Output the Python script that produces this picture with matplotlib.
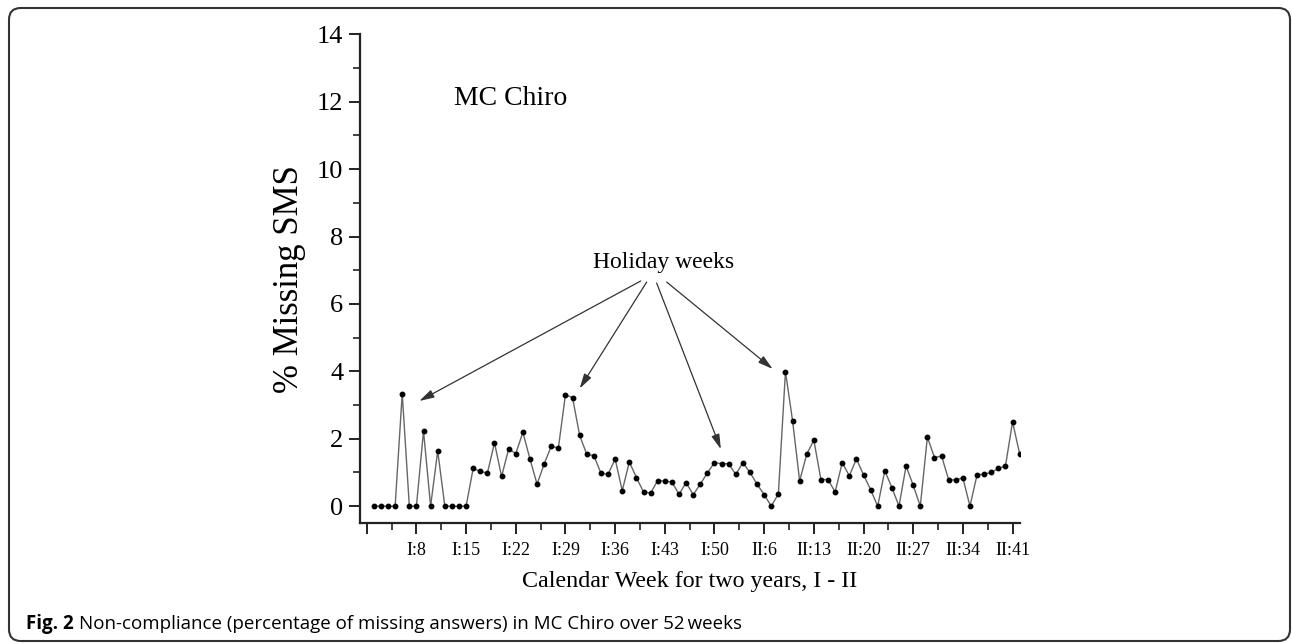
import matplotlib
matplotlib.use("Agg")
import matplotlib.pyplot as plt
from matplotlib.patches import FancyBboxPatch

# week index (1 = I:1); data start at I:2
weeks = list(range(2, 94))
missing = [0, 0, 0, 0, 3.34, 0, 0, 2.23, 0, 1.64, 0, 0, 0, 0,
           1.12, 1.03, 0.98, 1.88, 0.88, 1.70, 1.56, 2.19, 1.40, 0.65,
           1.25, 1.78, 1.72, 3.31, 3.22, 2.10, 1.54, 1.50, 0.98, 0.94,
           1.40, 0.46, 1.31, 0.85, 0.42, 0.39, 0.76, 0.74, 0.72, 0.35,
           0.70, 0.34, 0.65, 0.99, 1.29, 1.26, 1.26, 0.94, 1.29, 1.00,
           0.65, 0.34, 0.0, 0.36, 3.99, 2.54, 0.75, 1.54, 1.96, 0.79,
           0.79, 0.42, 1.29, 0.90, 1.40, 0.93, 0.49, 0.0, 1.05, 0.55,
           0.0, 1.19, 0.62, 0.0, 2.05, 1.44, 1.49, 0.78, 0.78, 0.84,
           0.0, 0.93, 0.95, 1.00, 1.12, 1.19, 2.50, 1.55]

tick_pos = [1, 8, 15, 22, 29, 36, 43, 50, 57, 64, 71, 78, 85, 92]
tick_labels = ["", "I:8", "I:15", "I:22", "I:29", "I:36", "I:43", "I:50",
               "II:6", "II:13", "II:20", "II:27", "II:34", "II:41"]

# holiday arrow targets (week index, value) and tails
arrow_x = [8.4, 31.0, 50.9, 58.2]
arrow_y = [3.12, 3.49, 1.69, 4.07]
arrow_tail_x = [39.6, 40.45, 41.85, 43.26]
arrow_tail_y = [6.68, 6.65, 6.62, 6.65]

serif = ["Liberation Serif", "DejaVu Serif"]
W, H = 1292, 643

fig = plt.figure(figsize=(W / 100, H / 100), dpi=100)
ax = fig.add_axes([360 / W, 1 - 523 / H, 660 / W, (523 - 34.3) / H])

ax.plot(weeks, missing, color="#666666", lw=1.0, zorder=2)
ax.plot(weeks, missing, ls="none", marker="o", ms=3.2, color="black", zorder=3)

ax.set_xlim(0.05, 93.05)
ax.set_ylim(-0.5, 14)
ax.set_xticks(tick_pos)
ax.set_xticklabels(tick_labels, fontfamily=serif, fontsize=13)
ax.set_xticks([p + 3.5 for p in tick_pos[:-1]], minor=True)
ax.set_yticks(range(0, 15, 2))
ax.set_yticklabels([str(v) for v in range(0, 15, 2)], fontfamily=serif, fontsize=19)
ax.set_yticks(range(1, 14, 2), minor=True)
for s in ["top", "right"]:
    ax.spines[s].set_visible(False)
for s in ["left", "bottom"]:
    ax.spines[s].set_linewidth(1.6)
    ax.spines[s].set_color("#222222")
ax.tick_params(axis="both", which="major", direction="out", length=8, width=1.4, color="#222222", pad=4)
ax.tick_params(axis="both", which="minor", direction="out", length=5, width=1.2, color="#222222")
ax.tick_params(axis="x", which="major", pad=6)

ax.set_ylabel("% Missing SMS", fontfamily=serif, fontsize=25, labelpad=8)
ax.set_xlabel("Calendar Week for two years, I - II", fontfamily=serif, fontsize=17.3, labelpad=8)

ax.text(0.142, 12.1, "MC Chiro", transform=ax.get_yaxis_transform(), fontfamily=serif, fontsize=20,
        ha="left", va="center")
ax.text(42.8, 7.24, "Holiday weeks", fontfamily=serif, fontsize=17, ha="center", va="center")
for tx, ty, hx, hy in zip(arrow_tail_x, arrow_tail_y, arrow_x, arrow_y):
    ax.annotate("", xy=(hx, hy), xytext=(tx, ty),
                arrowprops=dict(arrowstyle="-|>,head_length=0.9,head_width=0.25",
                                color="#333333", lw=0.9, shrinkA=0, shrinkB=0))

cap_y = 1 - 624 / H
cap = fig.text(26 / W, cap_y, "Fig. 2", fontfamily="Open Sans", fontsize=13.5,
               fontweight="bold", ha="left", va="center")
fig.canvas.draw()
bb = cap.get_window_extent()
fig.text((bb.x1 + 5) / W, cap_y,
         "Non-compliance (percentage of missing answers) in MC Chiro over 52\u2009weeks",
         fontfamily=["Open Sans", "DejaVu Sans"], fontsize=13.5, ha="left", va="center")

box = FancyBboxPatch((9 / W, 2 / H), (1290 - 9) / W, (643 - 8 - 2) / H,
                     boxstyle="round,pad=0,rounding_size=0.009",
                     transform=fig.transFigure, fill=False, ec="#333333", lw=1.5,
                     mutation_aspect=W / H)
fig.patches.append(box)

fig.savefig("out.png", dpi=100)
